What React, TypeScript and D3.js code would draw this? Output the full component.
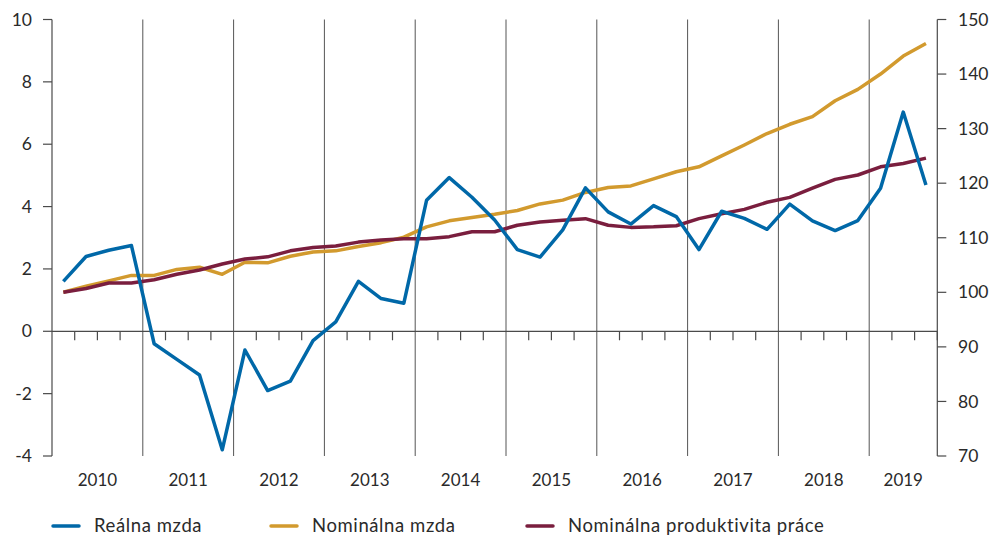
import { useEffect } from 'react'
import * as d3 from 'd3'

const YEARS = ['2010', '2011', '2012', '2013', '2014', '2015', '2016', '2017', '2018', '2019']

// quarterly, 2010 Q1 .. 2019 Q3
const realWage = [
  1.6, 2.4, 2.6, 2.75,
  -0.4, -0.9, -1.4, -3.8,
  -0.6, -1.9, -1.6, -0.3,
  0.3, 1.6, 1.05, 0.9,
  4.2, 4.93, 4.3, 3.57,
  2.62, 2.38, 3.25, 4.6,
  3.83, 3.44, 4.03, 3.68,
  2.62, 3.85, 3.62, 3.27,
  4.08, 3.54, 3.23, 3.55,
  4.59, 7.03, 4.69,
]

const nominalWage = [
  100, 101.1, 102.1, 103.1,
  103.1, 104.2, 104.6, 103.3,
  105.5, 105.4, 106.6, 107.4,
  107.6, 108.4, 109.1, 110.1,
  112.0, 113.1, 113.7, 114.3,
  115.0, 116.2, 116.9, 118.3,
  119.2, 119.5, 120.8, 122.1,
  123.0, 125.0, 127.0, 129.1,
  130.8, 132.2, 135.1, 137.2,
  140.0, 143.3, 145.6,
]

const nominalProductivity = [
  100, 100.7, 101.7, 101.7,
  102.3, 103.3, 104.1, 105.2,
  106.1, 106.5, 107.6, 108.2,
  108.5, 109.2, 109.6, 109.8,
  109.8, 110.2, 111.1, 111.1,
  112.3, 112.9, 113.2, 113.5,
  112.3, 111.9, 112.0, 112.2,
  113.5, 114.4, 115.2, 116.5,
  117.4, 119.1, 120.7, 121.5,
  123.0, 123.6, 124.6,
]

const leftTicks = [-4, -2, 0, 2, 4, 6, 8, 10]
const rightTicks = [70, 80, 90, 100, 110, 120, 130, 140, 150]

const legendItems = [
  { label: 'Reálna mzda', color: '#0068A8' },
  { label: 'Nominálna mzda', color: '#D29A2E' },
  { label: 'Nominálna produktivita práce', color: '#7A1E3E' },
]

const W = 994
const H = 536
const FONT = 'Lato, "Open Sans", sans-serif'
const TEXT = '#2a2a2a'
const AXIS = '#4a4a4a'

export default function App() {
  useEffect(() => {
    document.body.style.margin = '0'
  }, [])

  const nQ = realWage.length
  const x = d3.scaleLinear().domain([0, nQ]).range([52, 937.3])
  const yL = d3.scaleLinear().domain([-4, 10]).range([456, 19.5])
  const yR = d3.scaleLinear().domain([70, 150]).range([456, 19.5])

  const lineL = d3.line<number>().x((_, i) => x(i + 0.5)).y((d) => yL(d))
  const lineR = d3.line<number>().x((_, i) => x(i + 0.5)).y((d) => yR(d))

  const y0 = yL(0)
  const quarterTicks = d3.range(1, nQ + 1).filter((i) => i % 4 !== 0)
  const yearLines = d3.range(4, nQ, 4)

  const legendX = [53, 271, 527]

  return (
    <svg width={W} height={H} style={{ display: 'block', fontFamily: FONT }}>
      {/* year separators */}
      {yearLines.map((i) => (
        <line key={'yl' + i} x1={x(i)} x2={x(i)} y1={yL(10)} y2={yL(-4)} stroke="#555" strokeWidth={1} />
      ))}

      {/* zero line with quarter ticks */}
      <line x1={x(0)} x2={x(nQ)} y1={y0} y2={y0} stroke={AXIS} strokeWidth={1.2} />
      {quarterTicks.map((i) => (
        <line key={'qt' + i} x1={x(i)} x2={x(i)} y1={y0} y2={y0 + 9} stroke={AXIS} strokeWidth={1.2} />
      ))}

      {/* left axis */}
      <line x1={x(0)} x2={x(0)} y1={yL(10)} y2={yL(-4)} stroke={AXIS} strokeWidth={1.2} />
      {leftTicks.map((t) => (
        <g key={'lt' + t}>
          <line x1={x(0) - 9} x2={x(0)} y1={yL(t)} y2={yL(t)} stroke={AXIS} strokeWidth={1.2} />
          <text x={32} y={yL(t)} dy="0.35em" textAnchor="end" fontSize={17.5} fill={TEXT}>
            {t}
          </text>
        </g>
      ))}

      {/* right axis */}
      <line x1={x(nQ)} x2={x(nQ)} y1={yR(150)} y2={yR(70)} stroke={AXIS} strokeWidth={1.2} />
      {rightTicks.map((t) => (
        <g key={'rt' + t}>
          <line x1={x(nQ)} x2={x(nQ) + 9} y1={yR(t)} y2={yR(t)} stroke={AXIS} strokeWidth={1.2} />
          <text x={958} y={yR(t)} dy="0.35em" textAnchor="start" fontSize={17.5} fill={TEXT}>
            {t}
          </text>
        </g>
      ))}

      {/* year labels */}
      {YEARS.map((yr, k) => {
        const end = Math.min((k + 1) * 4, nQ)
        const cx = x((k * 4 + end) / 2)
        return (
          <text key={yr} x={cx} y={486} textAnchor="middle" fontSize={17} fill={TEXT}>
            {yr}
          </text>
        )
      })}

      {/* series */}
      <path d={lineR(nominalWage) ?? ''} fill="none" stroke={legendItems[1].color} strokeWidth={3.5} strokeLinejoin="round" />
      <path d={lineR(nominalProductivity) ?? ''} fill="none" stroke={legendItems[2].color} strokeWidth={3.5} strokeLinejoin="round" />
      <path d={lineL(realWage) ?? ''} fill="none" stroke={legendItems[0].color} strokeWidth={3.5} strokeLinejoin="round" />

      {/* legend */}
      {legendItems.map((it, i) => (
        <g key={it.label}>
          <line x1={legendX[i]} x2={legendX[i] + 26} y1={526} y2={526} stroke={it.color} strokeWidth={3.5} strokeLinecap="round" />
          <text x={legendX[i] + 41} y={532} fontSize={18.5} letterSpacing={0.6} fill={TEXT}>
            {it.label}
          </text>
        </g>
      ))}
    </svg>
  )
}
